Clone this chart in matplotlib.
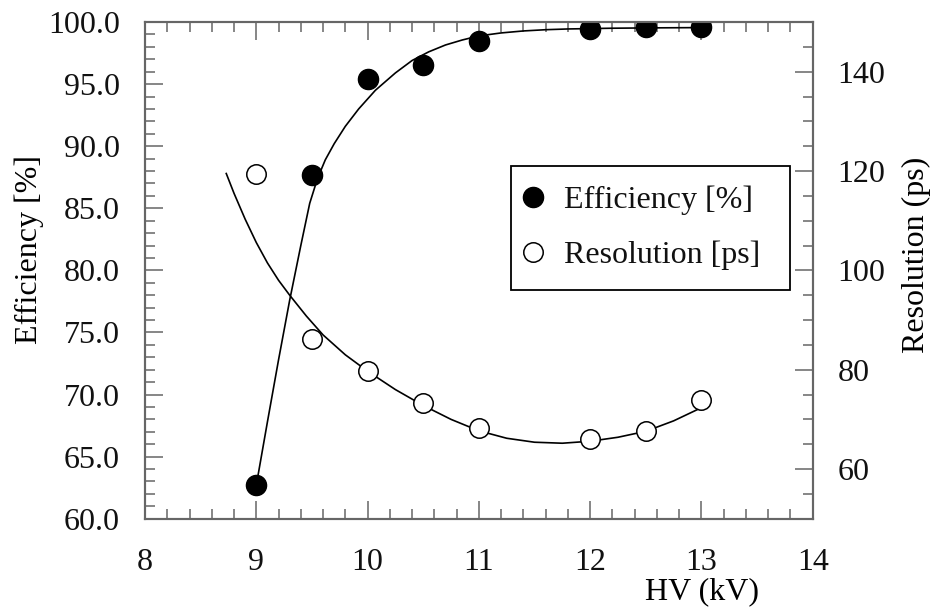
import matplotlib
matplotlib.use("Agg")
import matplotlib.pyplot as plt
from matplotlib.ticker import MultipleLocator, FormatStrFormatter

# ── measured points ─────────────────────────────────────────────
hv = [9.0, 9.5, 10.0, 10.5, 11.0, 12.0, 12.5, 13.0]
efficiency = [62.7, 87.7, 95.4, 96.5, 98.5, 99.4, 99.6, 99.6]
resolution = [119.5, 86.2, 79.8, 73.3, 68.2, 66.1, 67.7, 73.9]

# ── fit curves ──────────────────────────────────────────────────
eff_fit_hv = [9.00, 9.10, 9.20, 9.30, 9.40, 9.48, 9.55, 9.62, 9.70, 9.80,
              9.92, 10.07, 10.25, 10.40, 10.55, 10.70, 10.85, 11.00, 11.20,
              11.40, 11.60, 11.80, 12.20, 12.60, 13.00]
eff_fit = [62.7, 67.8, 72.8, 77.6, 82.0, 85.4, 87.4, 88.9, 90.2, 91.6,
           93.0, 94.5, 95.9, 96.9, 97.6, 98.15, 98.55, 98.88, 99.12,
           99.28, 99.38, 99.44, 99.50, 99.53, 99.55]

res_fit_hv = [8.73, 8.80, 8.90, 9.00, 9.10, 9.20, 9.30, 9.45, 9.60, 9.80,
              10.00, 10.25, 10.50, 10.75, 11.00, 11.25, 11.50, 11.75,
              12.00, 12.25, 12.50, 12.75, 13.07]
res_fit = [119.5, 115.5, 110.3, 105.6, 101.5, 98.0, 95.0, 90.8, 87.0, 83.0,
           79.7, 76.0, 72.8, 70.0, 67.7, 66.2, 65.4, 65.2,
           65.6, 66.4, 67.6, 69.7, 73.1]

# ── style ───────────────────────────────────────────────────────
plt.rcParams.update({
    "font.family": "Liberation Serif",
    "font.size": 23,
    "text.color": "#111111",
    "axes.edgecolor": "#666666",
    "axes.linewidth": 1.5,
    "xtick.color": "#666666",
    "ytick.color": "#666666",
    "xtick.labelcolor": "#111111",
    "ytick.labelcolor": "#111111",
})

fig = plt.figure(figsize=(9.32, 6.13), dpi=100)
ax = fig.add_axes([0.1556, 0.1538, 0.7164, 0.8103])
ax2 = ax.twinx()

ax.plot(eff_fit_hv, eff_fit, color="black", lw=1.2, zorder=2)
h1, = ax.plot(hv, efficiency, "o", color="black", ms=14.5, zorder=3,
              label="Efficiency [%]")

ax2.plot(res_fit_hv, res_fit, color="black", lw=1.2, zorder=2)
h2, = ax2.plot(hv, resolution, "o", mfc="white", mec="black", mew=1.1,
               ms=14, zorder=3, label="Resolution [ps]")

ax.set_xlim(8, 14)
ax.set_ylim(60, 100)
ax2.set_ylim(50, 150)

ax.xaxis.set_major_locator(MultipleLocator(1))
ax.xaxis.set_minor_locator(MultipleLocator(0.2))
ax.yaxis.set_major_locator(MultipleLocator(5))
ax.yaxis.set_minor_locator(MultipleLocator(1))
ax.yaxis.set_major_formatter(FormatStrFormatter("%.1f"))
ax2.yaxis.set_minor_locator(MultipleLocator(5))
ax2.set_yticks([60, 80, 100, 120, 140])

ax.tick_params(axis="x", which="both", direction="in", top=True, width=1.1)
ax.tick_params(axis="y", which="both", direction="in", right=False, width=1.1)
ax.tick_params(which="major", length=13)
ax.tick_params(axis="x", which="major", pad=21)
ax.tick_params(axis="y", which="major", pad=18)
ax.tick_params(which="minor", length=7)
ax2.tick_params(axis="y", which="both", direction="in", width=1.1)
ax2.tick_params(which="major", length=13, pad=18)
ax2.tick_params(which="minor", length=7)

ax.set_ylabel("Efficiency [%]")
ax.yaxis.set_label_coords(-0.152, 0.541)
ax2.set_ylabel("Resolution (ps)", rotation=90)
ax2.yaxis.set_label_coords(1.133, 0.531)
ax.set_xlabel("HV (kV)")
ax.xaxis.set_label_coords(0.834, -0.117)

leg = ax.legend(handles=[h1, h2], loc="upper left",
                bbox_to_anchor=(0.548, 0.46, 0.418, 0.25), mode="expand",
                frameon=True, fancybox=False, framealpha=1,
                edgecolor="black", borderpad=0.62, handlelength=0.15,
                handletextpad=0.88, labelspacing=0.78, markerscale=1.0,
                borderaxespad=0)
leg.get_frame().set_linewidth(1.3)

fig.savefig("out.png", dpi=100, facecolor="white")
